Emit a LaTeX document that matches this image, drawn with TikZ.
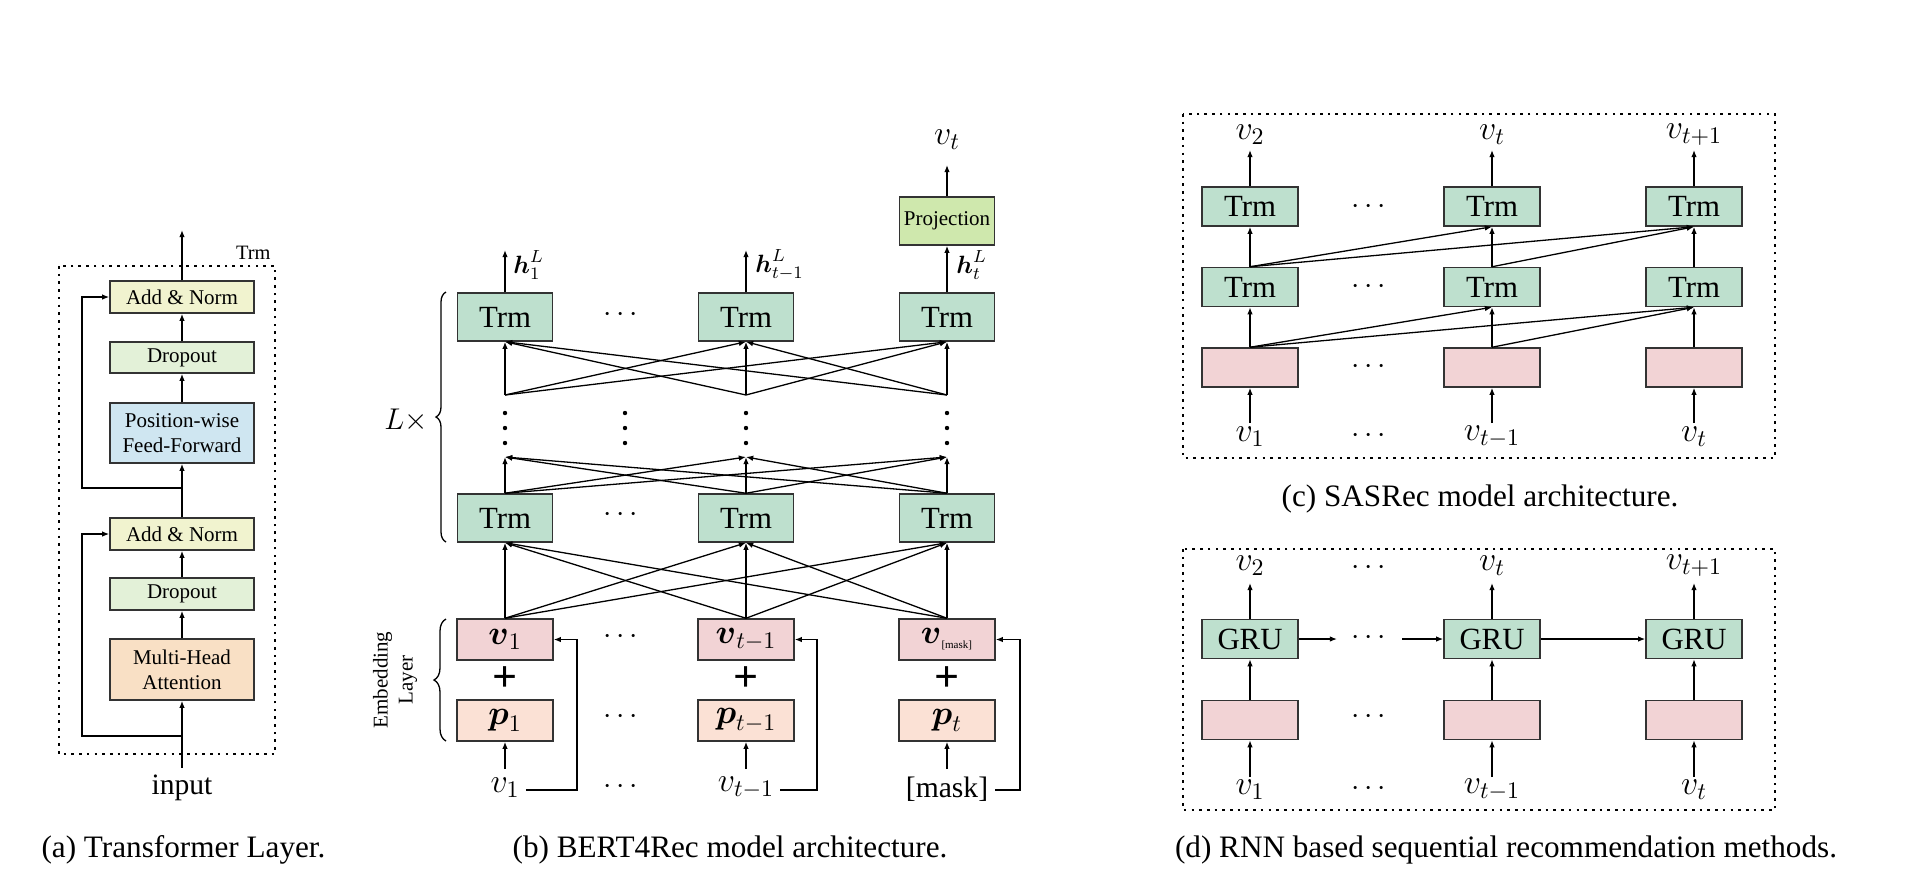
\RequirePackage{fix-cm}
\documentclass[tikz,border=0pt]{standalone}
\usepackage{amsmath}
\usepackage{fontspec}
\setmainfont{Liberation Serif}
\usetikzlibrary{arrows.meta,decorations.pathreplacing,calc}
\definecolor{boxline}{HTML}{333333}
\definecolor{cAN}{HTML}{F1F3CF}
\definecolor{cDO}{HTML}{E3F1D8}
\definecolor{cFF}{HTML}{CFE6F1}
\definecolor{cMH}{HTML}{F9E0C5}
\definecolor{cTrm}{HTML}{BEE0CE}
\definecolor{cProj}{HTML}{CFE8AD}
\definecolor{cV}{HTML}{F2D3D5}
\definecolor{cP}{HTML}{FBE1D5}
\newcommand\fsCap{\fontsize{15.6}{18}\selectfont}
\newcommand\fsBig{\fontsize{15.4}{18}\selectfont}
\newcommand\fsSm{\fontsize{10.5}{12.5}\selectfont}
\newcommand\fsIn{\fontsize{14.8}{17}\selectfont}
\newcommand\fsMath{\fontsize{17}{20}\selectfont}
\newcommand\fsDots{\fontsize{15}{18}\selectfont}
\newcommand\fsH{\fontsize{12.5}{14}\selectfont}
\newcommand\fsTlab{\fontsize{10.2}{12}\selectfont}
\newcommand\fsPlus{\fontsize{22}{22}\selectfont}
\begin{document}
\begin{tikzpicture}[x=0.5pt,y=-0.5pt,
  box/.style={draw=boxline, line width=0.75pt, inner sep=0pt, align=center},
  abox/.style={box, minimum width=72pt, font=\fsSm},
  tbox/.style={box, fill=cTrm, minimum width=47.5pt, minimum height=24pt, font=\fsBig},
  ebox/.style={box, minimum width=48pt, minimum height=20.5pt, font=\fsMath},
  sbox/.style={box, minimum width=48pt, minimum height=19.5pt, font=\fsBig},
  arr/.style={-{Latex[length=3.6pt,width=2.8pt]}, line width=0.65pt},
  ln/.style={line width=0.65pt},
  frame/.style={line width=1.3pt, dash pattern=on 1.3pt off 2.55pt},
  lab/.style={font=\fsMath, inner sep=3pt},
  hdots/.style={font=\fsDots, inner sep=0pt},
  vdot/.style={fill=black},
  captxt/.style={font=\fsCap}
]
\useasboundingbox (0,0) rectangle (1922,890);
\fill[white] (0,0) rectangle (1922,890);

% ---------------- (a) Transformer layer ----------------
\node[abox, fill=cAN, minimum height=16pt] (an1) at (182,297) {Add \& Norm};
\node[abox, fill=cDO, minimum height=15.5pt] (do1) at (182,357.5) {Dropout};
\node[abox, fill=cFF, minimum height=30pt] (ff) at (182,433) {Position-wise\\Feed-Forward};
\node[abox, fill=cAN, minimum height=16pt] (an2) at (182,534) {Add \& Norm};
\node[abox, fill=cDO, minimum height=16pt] (do2) at (182,594) {Dropout};
\node[abox, fill=cMH, minimum height=30.5pt] (mh) at (182,669.5) {Multi-Head\\Attention};
\node[font=\fsIn] (inp) at (182,788) {input};
\coordinate (aout) at (182,230);
\coordinate (br1) at (182,488);
\coordinate (sk1) at (82,488);
\coordinate (br2) at (182,736);
\coordinate (sk2) at (82,736);
\draw[arr] (an1) -- (aout);
\draw[arr] (do1) -- (an1);
\draw[arr] (ff) -- (do1);
\draw[arr] (an2) -- (ff);
\draw[arr] (do2) -- (an2);
\draw[arr] (mh) -- (do2);
\draw[arr] (inp) -- (mh);
\draw[arr] (br1) -- (sk1) |- (an1.west);
\draw[arr] (br2) -- (sk2) |- (an2.west);
\draw[frame] (59,266) rectangle (275,754);
\node[font=\fsTlab, anchor=base east, inner sep=0pt] (trmlab) at (271,259) {Trm};
\node[captxt] (capa) at (183.5,850) {(a) Transformer Layer.};

% ---------------- (b) BERT4Rec ----------------
\node[tbox] (t1a) at (505,317) {Trm};
\node[tbox] (t1b) at (746,317) {Trm};
\node[tbox] (t1c) at (947,317) {Trm};
\node[tbox] (t2a) at (505,518) {Trm};
\node[tbox] (t2b) at (746,518) {Trm};
\node[tbox] (t2c) at (947,518) {Trm};
\node[box, fill=cProj, minimum width=47.5pt, minimum height=24pt, font=\fsSm] (proj) at (947,221) {Projection};
\node[lab] (vtop) at (947,140) {$v_t$};
\coordinate (ptip) at (947,165);
\draw[arr] (proj) -- (ptip);
\coordinate (h1) at (505,250);
\coordinate (h2) at (746,250);
\draw[arr] (t1a) -- (h1);
\draw[arr] (t1b) -- (h2);
\draw[arr] (t1c) -- (proj);
\node[font=\fsH, anchor=west, inner sep=0pt] (hl1) at (513,265) {$\boldsymbol{h}^{L}_{1}$};
\node[font=\fsH, anchor=west, inner sep=0pt] (hl2) at (755,265) {$\boldsymbol{h}^{L}_{t-1}$};
\node[font=\fsH, anchor=west, inner sep=0pt] (hl3) at (956,265) {$\boldsymbol{h}^{L}_{t}$};
\coordinate (ua) at (505,395);
\coordinate (ub) at (746,395);
\coordinate (uc) at (947,395);
\foreach \s in {ua,ub,uc}{\foreach \t in {t1a,t1b,t1c}{\draw[arr] (\s) -- (\t.south);}}
\coordinate (la) at (505,457);
\coordinate (lb) at (746,457);
\coordinate (lc) at (947,457);
\foreach \s in {t2a,t2b,t2c}{\foreach \t in {la,lb,lc}{\draw[arr] (\s.north) -- (\t);}}
\foreach \x in {505,625,746,947}{\foreach \y in {413,428,443}{\fill[vdot] (\x,\y) circle (1.1pt);}}
\node[ebox, fill=cV] (va) at (505,639.5) {$\boldsymbol{v}_1$};
\node[ebox, fill=cV] (vb) at (746,639.5) {$\boldsymbol{v}_{t-1}$};
\node[ebox, fill=cV] (vc) at (947,639.5) {$\boldsymbol{v}_{\text{\fontsize{5.5}{6}\selectfont[mask]}}$};
\node[ebox, fill=cP] (pa) at (505,720.5) {$\boldsymbol{p}_1$};
\node[ebox, fill=cP] (pb) at (746,720.5) {$\boldsymbol{p}_{t-1}$};
\node[ebox, fill=cP] (pc) at (947,720.5) {$\boldsymbol{p}_t$};
\node[font=\fsPlus, inner sep=0pt] (plusa) at (505,679) {\textbf{+}};
\node[font=\fsPlus, inner sep=0pt] (plusb) at (746,679) {\textbf{+}};
\node[font=\fsPlus, inner sep=0pt] (plusc) at (947,679) {\textbf{+}};
\foreach \s in {va,vb,vc}{\foreach \t in {t2a,t2b,t2c}{\draw[arr] (\s.north) -- (\t.south);}}
\node[lab] (ia) at (505,788) {$v_1$};
\node[lab] (ib) at (746,788) {$v_{t-1}$};
\node[font=\fsIn] (ic) at (947,789) {[mask]};
\coordinate (pia) at (505,769);
\coordinate (pib) at (746,769);
\coordinate (pic) at (947,769);
\draw[arr] (pia) -- (pa.south);
\draw[arr] (pib) -- (pb.south);
\draw[arr] (pic) -- (pc.south);
\coordinate (ra) at (577,790);
\coordinate (rb) at (817,790);
\coordinate (rc) at (1020,790);
\draw[arr] (ia.east |- ra) -- (ra) |- (va.east);
\draw[arr] (ib.east |- rb) -- (rb) |- (vb.east);
\draw[arr] (ic.east |- rc) -- (rc) |- (vc.east);
\node[hdots] (bd1) at (623,315) {$\cdots$};
\node[hdots] (bd2) at (623,515) {$\cdots$};
\node[hdots] (bd3) at (623,637) {$\cdots$};
\node[hdots] (bd4) at (623,717) {$\cdots$};
\node[hdots] (bd5) at (623,787) {$\cdots$};
\draw[ln, decorate, decoration={brace, amplitude=5pt}] (446,542) -- (446,292);
\node[font=\fsDots] (lx) at (406,420) {$L\times$};
\draw[ln, decorate, decoration={brace, amplitude=6pt}] (446,741) -- (446,619);
\node[rotate=90, align=center, font=\fsSm] (emb) at (395,680) {Embedding\\Layer};
\node[captxt] (capb) at (730,850) {(b) BERT4Rec model architecture.};

% ---------------- (c) SASRec ----------------
\node[sbox, fill=cTrm] (c1a) at (1250,206.5) {Trm};
\node[sbox, fill=cTrm] (c1b) at (1492,206.5) {Trm};
\node[sbox, fill=cTrm] (c1c) at (1694,206.5) {Trm};
\node[sbox, fill=cTrm] (c2a) at (1250,287) {Trm};
\node[sbox, fill=cTrm] (c2b) at (1492,287) {Trm};
\node[sbox, fill=cTrm] (c2c) at (1694,287) {Trm};
\node[sbox, fill=cV] (cea) at (1250,367.5) {};
\node[sbox, fill=cV] (ceb) at (1492,367.5) {};
\node[sbox, fill=cV] (cec) at (1694,367.5) {};
\node[lab] (cva) at (1250,135) {$v_2$};
\node[lab] (cvb) at (1492,135) {$v_t$};
\node[lab] (cvc) at (1694,135) {$v_{t+1}$};
\coordinate (cta) at (1250,150);
\coordinate (ctb) at (1492,150);
\coordinate (ctc) at (1694,150);
\draw[arr] (c1a) -- (cta);
\draw[arr] (c1b) -- (ctb);
\draw[arr] (c1c) -- (ctc);
\draw[arr] (c2a.north) -- (c1a.south);
\draw[arr] (c2a.north) -- (c1b.south);
\draw[arr] (c2a.north) -- (c1c.south);
\draw[arr] (c2b.north) -- (c1b.south);
\draw[arr] (c2b.north) -- (c1c.south);
\draw[arr] (c2c.north) -- (c1c.south);
\draw[arr] (cea.north) -- (c2a.south);
\draw[arr] (cea.north) -- (c2b.south);
\draw[arr] (cea.north) -- (c2c.south);
\draw[arr] (ceb.north) -- (c2b.south);
\draw[arr] (ceb.north) -- (c2c.south);
\draw[arr] (cec.north) -- (c2c.south);
\node[lab] (cia) at (1250,437) {$v_1$};
\node[lab] (cib) at (1492,437) {$v_{t-1}$};
\node[lab] (cic) at (1694,437) {$v_t$};
\coordinate (cba) at (1250,423);
\coordinate (cbb) at (1492,423);
\coordinate (cbc) at (1694,423);
\draw[arr] (cba) -- (cea);
\draw[arr] (cbb) -- (ceb);
\draw[arr] (cbc) -- (cec);
\node[hdots] (cd1) at (1371,207) {$\cdots$};
\node[hdots] (cd2) at (1371,287) {$\cdots$};
\node[hdots] (cd3) at (1371,367) {$\cdots$};
\node[hdots] (cd4) at (1371,436) {$\cdots$};
\draw[frame] (1183,114) rectangle (1775,458);
\node[captxt] (capc) at (1480,499) {(c) SASRec model architecture.};

% ---------------- (d) RNN ----------------
\node[sbox, fill=cTrm] (da) at (1250,639) {GRU};
\node[sbox, fill=cTrm] (db) at (1492,639) {GRU};
\node[sbox, fill=cTrm] (dc) at (1694,639) {GRU};
\node[sbox, fill=cV] (dea) at (1250,720) {};
\node[sbox, fill=cV] (deb) at (1492,720) {};
\node[sbox, fill=cV] (dec) at (1694,720) {};
\node[lab] (dva) at (1250,566) {$v_2$};
\node[lab] (dvb) at (1492,566) {$v_t$};
\node[lab] (dvc) at (1694,566) {$v_{t+1}$};
\coordinate (dta) at (1250,583);
\coordinate (dtb) at (1492,583);
\coordinate (dtc) at (1694,583);
\draw[arr] (da) -- (dta);
\draw[arr] (db) -- (dtb);
\draw[arr] (dc) -- (dtc);
\draw[arr] (dea) -- (da);
\draw[arr] (deb) -- (db);
\draw[arr] (dec) -- (dc);
\node[lab] (dia) at (1250,790) {$v_1$};
\node[lab] (dib) at (1492,790) {$v_{t-1}$};
\node[lab] (dic) at (1694,790) {$v_t$};
\coordinate (dba) at (1250,777);
\coordinate (dbb) at (1492,777);
\coordinate (dbc) at (1694,777);
\draw[arr] (dba) -- (dea);
\draw[arr] (dbb) -- (deb);
\draw[arr] (dbc) -- (dec);
\coordinate (dh1) at (1337,639);
\coordinate (dh2) at (1402,639);
\draw[arr] (da) -- (dh1);
\draw[arr] (dh2) -- (db);
\draw[arr] (db) -- (dc);
\node[hdots] (dd1) at (1371,568) {$\cdots$};
\node[hdots] (dd2) at (1371,638) {$\cdots$};
\node[hdots] (dd3) at (1371,717) {$\cdots$};
\node[hdots] (dd4) at (1371,789) {$\cdots$};
\draw[frame] (1183,549) rectangle (1775,810);
\node[captxt] (capd) at (1506,850) {(d) RNN based sequential recommendation methods.};
\end{tikzpicture}
\end{document}
